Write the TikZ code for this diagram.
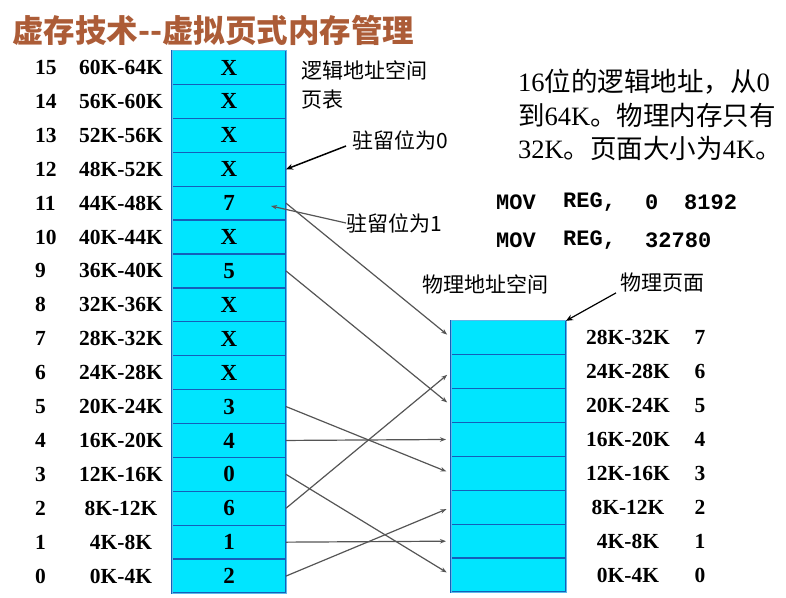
\documentclass[tikz,border=0pt]{standalone}
\usepackage{fontspec}
\setmainfont{Liberation Serif}
\newfontfamily\cjk{Noto Sans CJK SC}
\newfontfamily\monof{Liberation Mono}
\usetikzlibrary{arrows.meta}
\definecolor{cellfill}{RGB}{0,229,255}
\definecolor{cellline}{RGB}{20,95,185}
\definecolor{cellout}{RGB}{90,185,235}
\definecolor{titlecol}{RGB}{172,92,55}
\definecolor{mapcol}{RGB}{85,85,85}
\begin{document}
\begin{tikzpicture}[x=1pt,y=-1pt,
  cell/.style={draw=cellline, line width=1.3pt, fill=cellfill, minimum width=114pt, minimum height=33.9pt, inner sep=0pt, outer sep=0pt, font=\fontsize{23}{23}\selectfont\bfseries},
  lab/.style={inner sep=0pt, font=\fontsize{21.5}{21.5}\selectfont\bfseries},
  cjklab/.style={inner sep=0pt, font=\fontsize{21}{21}\selectfont\cjk},
  txt/.style={inner sep=0pt, anchor=west, font=\fontsize{26.5}{26.5}\selectfont},
  mono/.style={inner sep=0pt, anchor=west, font=\fontsize{22}{22}\selectfont\monof\bfseries},
  map/.style={draw=mapcol, line width=1.2pt, -{Stealth[length=6pt,width=4.5pt]}, shorten >=5pt},
  note/.style={draw=black, line width=1.5pt, -{Stealth[length=7pt,width=6pt]}}
]
\useasboundingbox (0,0) rectangle (786,597);

% title
\node[anchor=west, inner sep=0pt, text=titlecol, font=\fontsize{31.5}{31.5}\selectfont\cjk\bfseries] (title) at (12,30) {虚存技术--虚拟页式内存管理};

% logical pages
\foreach \i/\v in {15/X,14/X,13/X,12/X,11/7,10/X,9/5,8/X,7/X,6/X,5/3,4/4,3/0,2/6,1/1,0/2} {
  \pgfmathsetmacro\yy{593-33.9*(\i+0.5)}
  \pgfmathtruncatemacro\lo{4*\i}
  \pgfmathtruncatemacro\hi{4*\i+4}
  \node[cell] (v\i) at (229,\yy) {\v};
  \node[lab, anchor=west] (n\i) at (35,\yy) {\i};
  \node[lab] (r\i) at (121,\yy) {\lo K-\hi K};
}
\draw[cellout, line width=1pt] (v15.north west) rectangle (v0.south east);

% physical frames
\foreach \j in {7,6,...,0} {
  \pgfmathsetmacro\yy{592-33.9*(\j+0.5)}
  \pgfmathtruncatemacro\lo{4*\j}
  \pgfmathtruncatemacro\hi{4*\j+4}
  \node[cell, minimum width=115pt] (p\j) at (508.5,\yy) {};
  \node[lab] (q\j) at (628,\yy) {\lo K-\hi K};
  \node[lab] (m\j) at (700,\yy) {\j};
}
\draw[cellout, line width=1pt] (p7.north west) rectangle (p0.south east);

% mappings
\foreach \a/\b in {11/7,9/5,5/3,4/4,3/0,2/6,1/1,0/2}
  \draw[map] (v\a.east) -- (p\b.west);

% labels
\node[cjklab, anchor=west] (lspace) at (301,70) {逻辑地址空间};
\node[cjklab, anchor=west] (ptab) at (301,100) {页表};
\node[cjklab, anchor=west] (res0) at (352,140) {驻留位为0};
\node[cjklab, anchor=west] (res1) at (346,223) {驻留位为1};
\node[cjklab] (pspace) at (485,284) {物理地址空间};
\node[cjklab, anchor=west] (pframe) at (620,283) {物理页面};

\coordinate (tip1) at (271,206);
\draw[note] (res0.west) ++(-6,6) -- (v12.east);
\draw[map, shorten >=0pt] (res1.west) -- (tip1);
\draw[note, line width=1.2pt] (pframe.south west) ++(-4,0) -- (p7.north east);

% text block
\node[txt] (t1) at (518,82) {16{\cjk 位的逻辑地址，从}0};
\node[txt] (t2) at (518,115) {{\cjk 到}64K{\cjk 。物理内存只有}};
\node[txt] (t3) at (518,148) {32K{\cjk 。页面大小为}4K{\cjk 。}};

\node[mono] (a1) at (496,202) {MOV};
\node[mono] (b1) at (563,202) {REG,};
\node[mono] (c1) at (645,202) {0};
\node[mono] (d1) at (684,202) {8192};
\node[mono] (a2) at (496,240) {MOV};
\node[mono] (b2) at (563,240) {REG,};
\node[mono] (c2) at (645,240) {32780};
\end{tikzpicture}
\end{document}
